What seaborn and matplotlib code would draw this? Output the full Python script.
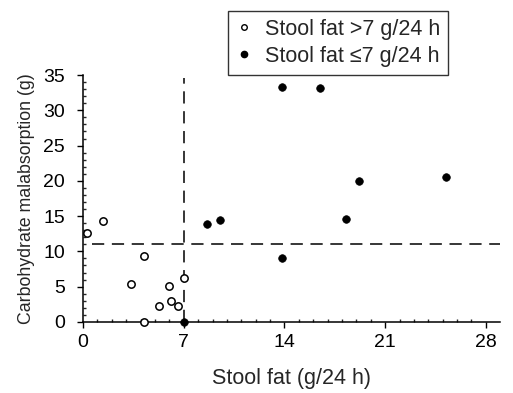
import numpy as np
import matplotlib
matplotlib.use("Agg")
import matplotlib.pyplot as plt
from matplotlib.lines import Line2D
import seaborn as sns

# stool fat (g/24 h) vs carbohydrate malabsorption (g)
open_x = [0.3, 1.4, 4.2, 3.3, 6.0, 5.3, 6.1, 6.6, 7.0, 4.2]
open_y = [12.6, 14.3, 9.3, 5.4, 5.1, 2.2, 3.0, 2.3, 6.2, 0.0]
filled_x = [7.0, 8.6, 9.5, 13.8, 16.5, 13.8, 18.3, 19.2, 25.2]
filled_y = [0.0, 13.9, 14.5, 33.3, 33.2, 9.0, 14.6, 20.0, 20.5]
fat_cutoff = 7
carb_cutoff = 11
x_ticks = [0, 7, 14, 21, 28]
y_ticks = [0, 5, 10, 15, 20, 25, 30, 35]
legend_labels = ["Stool fat >7 g/24 h", "Stool fat \u22647 g/24 h"]

sns.set_style("ticks")
plt.rcParams["font.family"] = ["Liberation Sans", "DejaVu Sans"]

fig = plt.figure(figsize=(5.13, 3.93), dpi=100)
ax = fig.add_axes([0.162, 0.181, 0.813, 0.628])

sns.scatterplot(x=open_x, y=open_y, ax=ax, marker="o", s=28,
                facecolor="white", edgecolor="black", linewidth=1.1,
                clip_on=False, zorder=3)
sns.scatterplot(x=filled_x, y=filled_y, ax=ax, marker="o", s=30,
                color="black", edgecolor="black", linewidth=0.5,
                clip_on=False, zorder=3)

dash = (0, (8, 5))
ax.plot([fat_cutoff, fat_cutoff], [0, 34.6], color="black", lw=1.1, linestyle=dash)
ax.plot([0.6, 29], [carb_cutoff, carb_cutoff], color="black", lw=1.1, linestyle=dash)

ax.set_xlim(0, 29)
ax.set_ylim(0, 35)
ax.set_xticks(x_ticks)
ax.set_yticks(y_ticks)
ax.set_xticks(np.arange(0, 29, 1), minor=True)
ax.set_yticks(np.arange(0, 36, 1), minor=True)
ax.tick_params(which="major", direction="out", length=4, width=1, labelsize=14,
               colors="black")
ax.tick_params(axis="x", which="major", pad=5)
ax.tick_params(axis="y", which="major", pad=9)
ax.tick_params(which="minor", direction="in", length=2.5, width=1)
sns.despine(ax=ax)
for sp in ["left", "bottom"]:
    ax.spines[sp].set_linewidth(1.1)
    ax.spines[sp].set_color("black")

ax.set_xlabel("Stool fat (g/24 h)", fontsize=15.5, labelpad=12)
ax.set_ylabel("Carbohydrate malabsorption (g)", fontsize=12.8, labelpad=6)

handles = [
    Line2D([], [], marker="o", linestyle="none", markersize=4,
           markerfacecolor="white", markeredgecolor="black", markeredgewidth=1),
    Line2D([], [], marker="o", linestyle="none", markersize=4.5,
           markerfacecolor="black", markeredgecolor="black"),
]
leg = fig.legend(handles, legend_labels, loc="upper left",
                 bbox_to_anchor=(0.444, 0.972), fontsize=15.5, frameon=True,
                 fancybox=False, handlelength=0.8, handletextpad=0.6,
                 borderpad=0.35, labelspacing=0.3, borderaxespad=0)
leg.get_frame().set_edgecolor("black")
leg.get_frame().set_linewidth(1)

fig.savefig("out.png", dpi=100)
